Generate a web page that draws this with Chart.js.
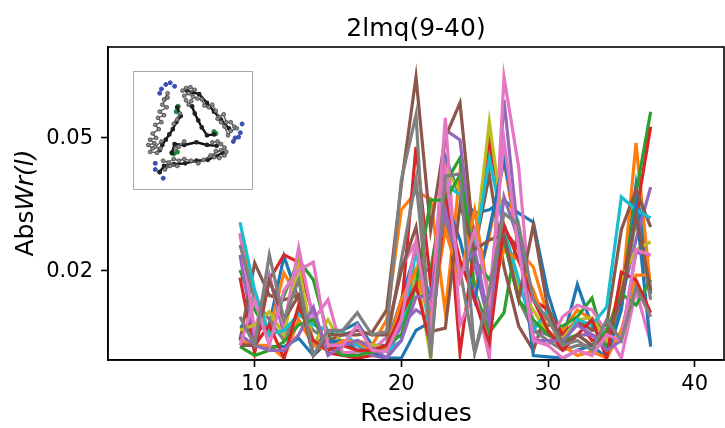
<!DOCTYPE html>
<html>
<head>
<meta charset="utf-8">
<style>
html, body { margin: 0; padding: 0; background: #fff; }
#wrap { position: relative; width: 725px; height: 428px; }
#inset { position: absolute; left: 133px; top: 71px; width: 120px; height: 119px; border: 1px solid #a8a8a8; box-sizing: border-box; }
</style>
<script src="https://cdn.jsdelivr.net/npm/chart.js@4/dist/chart.umd.min.js"></script>
</head>
<body>
<div id="wrap">
  <canvas id="myChart" width="725" height="428"></canvas>
  <div id="inset"><canvas id="insetChart" width="118" height="117"></canvas></div>
</div>
<script>
var residues = [9,10,11,12,13,14,15,16,17,18,19,20,21,22,23,24,25,26,27,28,29,30,31,32,33,34,35,36,37];

var blue1 = [.0136,.0131,.0137,.0220,.0163,.0119,.0128,.0132,.0139,.0119,.0119,.0163,.0230,.0163,.0436,.0331,.0296,.0303,.0324,.0296,.0278,.0170,.0123,.0181,.0136,.0119,.0163,.0360,.0170];
var orange1 = [.0255,.0163,.0132,.0196,.0163,.0123,.0119,.0119,.0123,.0119,.0142,.0303,.0342,.0327,.0149,.0393,.0174,.0252,.0427,.0230,.0204,.0145,.0132,.0152,.0142,.0111,.0163,.0480,.0174];
var green1 = [.0200,.0152,.0128,.0168,.0214,.0187,.0128,.0111,.0114,.0114,.0119,.0137,.0200,.0200,.0364,.0433,.0174,.0130,.0149,.0269,.0136,.0137,.0136,.0145,.0165,.0115,.0163,.0339,.0595];
var red1 = [.0190,.0113,.0187,.0222,.0211,.0145,.0113,.0111,.0109,.0111,.0115,.0152,.0467,.0182,.0399,.0113,.0238,.0480,.0264,.0230,.0163,.0152,.0128,.0142,.0123,.0128,.0174,.0292,.0537];
var purple1 = [.0222,.0123,.0193,.0128,.0147,.0142,.0119,.0123,.0119,.0111,.0109,.0137,.0152,.0142,.0525,.0490,.0207,.0137,.0646,.0246,.0132,.0128,.0119,.0128,.0128,.0123,.0163,.0246,.0354];
var brown1 = [.0123,.0210,.0168,.0163,.0168,.0111,.0123,.0128,.0128,.0130,.0152,.0360,.0757,.0264,.0500,.0633,.0230,.0385,.0204,.0136,.0115,.0155,.0121,.0142,.0132,.0137,.0264,.0347,.0269];
var pink1 = [.0258,.0132,.0190,.0136,.0233,.0142,.0163,.0113,.0114,.0115,.0126,.0204,.0243,.0145,.0571,.0137,.0174,.0109,.0757,.0407,.0126,.0119,.0145,.0157,.0152,.0130,.0109,.0174,.0121];
var gray1 = [.0238,.0163,.0142,.0123,.0152,.0132,.0123,.0119,.0123,.0117,.0119,.0214,.0372,.0132,.0282,.0200,.0113,.0163,.0246,.0163,.0132,.0123,.0115,.0119,.0119,.0123,.0163,.0282,.0163];
var olive1 = [.0132,.0137,.0150,.0128,.0207,.0119,.0142,.0119,.0123,.0119,.0117,.0142,.0200,.0109,.0399,.0347,.0230,.0555,.0264,.0174,.0152,.0128,.0125,.0142,.0144,.0123,.0187,.0230,.0243];
var cyan1 = [.0278,.0174,.0128,.0132,.0147,.0137,.0132,.0131,.0119,.0115,.0114,.0123,.0230,.0128,.0360,.0336,.0230,.0433,.0264,.0187,.0132,.0152,.0119,.0142,.0137,.0155,.0331,.0303,.0286];
var blue2 = [.0121,.0119,.0118,.0118,.0125,.0111,.0122,.0123,.0115,.0114,.0109,.0109,.0132,.0140,.0324,.0246,.0163,.0264,.0427,.0255,.0111,.0110,.0109,.0115,.0119,.0109,.0152,.0313,.0118];
var orange2 = [.0123,.0119,.0119,.0109,.0142,.0119,.0115,.0123,.0122,.0114,.0115,.0163,.0200,.0142,.0264,.0187,.0303,.0163,.0230,.0214,.0174,.0132,.0119,.0111,.0114,.0109,.0132,.0193,.0193];
var green2 = [.0118,.0111,.0115,.0122,.0137,.0142,.0119,.0111,.0111,.0114,.0119,.0128,.0180,.0324,.0324,.0385,.0214,.0187,.0246,.0163,.0142,.0128,.0123,.0128,.0119,.0132,.0170,.0157,.0187];
var red2 = [.0119,.0119,.0137,.0109,.0157,.0123,.0115,.0119,.0115,.0115,.0119,.0147,.0180,.0119,.0324,.0214,.0163,.0121,.0273,.0214,.0163,.0132,.0115,.0128,.0142,.0109,.0197,.0187,.0149];
var purple2 = [.0128,.0119,.0115,.0115,.0128,.0155,.0111,.0119,.0123,.0117,.0109,.0123,.0166,.0168,.0303,.0193,.0230,.0142,.0331,.0246,.0123,.0123,.0123,.0137,.0128,.0115,.0123,.0226,.0222];
var brown2 = [.0119,.0119,.0187,.0142,.0168,.0111,.0128,.0128,.0132,.0128,.0128,.0200,.0269,.0131,.0134,.0313,.0230,.0246,.0255,.0163,.0273,.0152,.0119,.0128,.0119,.0128,.0163,.0292,.0174];
var pink2 = [.0119,.0163,.0119,.0174,.0200,.0211,.0119,.0119,.0137,.0115,.0114,.0142,.0243,.0132,.0399,.0187,.0264,.0163,.0490,.0230,.0123,.0119,.0109,.0115,.0111,.0128,.0123,.0230,.0222];
var gray2 = [.0145,.0119,.0222,.0142,.0187,.0111,.0132,.0132,.0149,.0128,.0131,.0372,.0583,.0109,.0382,.0388,.0113,.0174,.0296,.0273,.0163,.0142,.0119,.0123,.0115,.0142,.0123,.0178,.0145];

var allSeries = [blue1, orange1, green1, red1, purple1, brown1, pink1, gray1, olive1, cyan1,
                 blue2, orange2, green2, red2, purple2, brown2, pink2, gray2];
var colors = ['#1f77b4','#ff7f0e','#2ca02c','#d62728','#9467bd','#8c564b','#e377c2','#7f7f7f','#bcbd22','#17becf'];
var yTicks = [0.02, 0.05];
var xTicks = [10, 20, 30, 40];

var fontName = '"DejaVu Sans"';

// black frame round the plot, and the y label (mixed upright and italic)
var framePlugin = {
  id: 'frame',
  afterDraw: function(chart) {
    var c = chart.ctx, a = chart.chartArea;
    c.save();
    c.strokeStyle = '#000';
    c.lineWidth = 1.6;
    c.strokeRect(a.left, a.top, a.right - a.left, a.bottom - a.top);
    c.translate(33, 203);
    c.rotate(-Math.PI / 2);
    c.fillStyle = '#000';
    c.textBaseline = 'alphabetic';
    c.textAlign = 'left';
    c.font = '25px ' + fontName;
    var w1 = c.measureText('Abs').width;
    c.font = 'italic 25px ' + fontName;
    var w2 = c.measureText('Wr(l)').width;
    var x = -(w1 + w2) / 2;
    c.font = '25px ' + fontName;
    c.fillText('Abs', x, 0);
    c.font = 'italic 25px ' + fontName;
    c.fillText('Wr(l)', x + w1, 0);
    c.restore();
  }
};

var ctx = document.getElementById('myChart').getContext('2d');
var chart = new Chart(ctx, {
  type: 'line',
  data: {
    datasets: allSeries.map(function(s, i) {
      return {
        label: 'run ' + (i + 1),
        data: s.map(function(v, j) { return { x: residues[j], y: v }; }),
        borderColor: colors[i % 10],
        borderWidth: 3.2,
        pointRadius: 0,
        tension: 0,
        fill: false,
        order: allSeries.length - i
      };
    })
  },
  options: {
    responsive: false,
    animation: false,
    layout: { padding: { right: 1 } },
    plugins: {
      legend: { display: false },
      tooltip: { enabled: false },
      title: {
        display: true,
        fullSize: false,
        text: '2lmq(9-40)',
        color: '#000',
        font: { family: fontName, size: 25, weight: 'normal' },
        padding: { top: 14, bottom: 3 }
      }
    },
    scales: {
      x: {
        type: 'linear',
        min: 0,
        max: 42,
        afterBuildTicks: function(axis) { axis.ticks = xTicks.map(function(v) { return { value: v }; }); },
        afterFit: function(axis) { axis.height = 68; },
        grid: { drawOnChartArea: false, tickLength: 7, tickColor: '#000', tickWidth: 1.6 },
        border: { color: '#000', width: 1.6 },
        ticks: { color: '#000', maxRotation: 0, padding: 5, autoSkip: false, font: { family: fontName, size: 21 } },
        title: { display: true, text: 'Residues', color: '#000', padding: { top: 3, bottom: -1 }, font: { family: fontName, size: 25 } }
      },
      y: {
        type: 'logarithmic',
        min: 0.01076,
        max: 0.093,
        afterBuildTicks: function(axis) { axis.ticks = yTicks.map(function(v) { return { value: v }; }); },
        afterFit: function(axis) { axis.width = 108; },
        grid: { drawOnChartArea: false, tickLength: 7, tickColor: '#000', tickWidth: 1.6 },
        border: { color: '#000', width: 1.6 },
        ticks: {
          color: '#000',
          padding: 8,
          labelOffset: 1.5,
          autoSkip: false,
          font: { family: fontName, size: 21 },
          callback: function(v) { return Number(v).toFixed(2); }
        }
      }
    }
  },
  plugins: [framePlugin]
});

// molecule picture in the corner, three arms of beads
var armBlack = [
  [[42,33],[46,43],[41,50],[37,58],[33,64],[29,70],[25,76],[22,82]],
  [[59,32],[62,40],[66,48],[70,56],[76,65],[84,64]],
  [[36,85],[39,75],[50,76],[64,73],[76,76],[87,77]],
  [[94,85],[77,93],[64,94],[51,97],[38,98],[27,100],[22,107]],
  [[53,14],[60,16],[67,18],[76,28],[84,38],[92,47],[101,57]]
];
var armGray = [
  [[31,17],[27,24],[31,22],[25,30],[30,33],[22,38],[27,42],[20,45],[24,50],[17,53],[21,58],[14,63],[18,68],[11,70],[16,74],[9,76],[14,80],[11,84],[19,85],[23,80],[17,78],[24,72]],
  [[42,47],[45,40],[38,52]],
  [[48,14],[52,11],[57,10],[62,13],[50,20],[55,17],[60,21],[65,23],[70,24],[73,31],[78,33],[82,30],[86,37],[90,44],[95,41],[98,50],[103,50],[107,55],[110,57],[103,60],[100,65],[96,55],[92,50],[88,46]],
  [[52,25],[55,30],[58,26]],
  [[82,73],[88,72],[92,75],[96,79],[98,84],[96,88],[90,91],[84,90],[86,83],[92,82],[80,88],[72,93],[66,97],[58,94],[50,92],[44,94],[38,92],[32,96],[28,104],[34,100],[42,100],[26,94]],
  [[44,78],[50,72],[40,80]]
];
var blueDots = [[22,17],[24,12],[29,7],[34,5],[39,9],[116,52],[114,62],[112,67],[108,68],[106,72],[17,97],[17,104],[22,107],[26,114]];
var greenDots = [[43,32],[41,38],[84,61],[86,63],[36,85],[38,86],[42,84]];

function pts(list) { return list.map(function(p) { return { x: p[0], y: p[1] }; }); }

var insetSets = [];
armGray.forEach(function(a) {
  insetSets.push({ data: pts(a), showLine: true, borderColor: '#666', borderWidth: 1.5, pointRadius: 1.9, pointBackgroundColor: '#8c8c8c', pointBorderColor: '#444', pointBorderWidth: 0.8 });
});
armBlack.forEach(function(a) {
  insetSets.push({ data: pts(a), showLine: true, borderColor: '#111', borderWidth: 2.4, pointRadius: 1.2, pointBackgroundColor: '#222', pointBorderColor: '#222' });
});
insetSets.push({ data: pts(blueDots), showLine: false, pointRadius: 2, pointBackgroundColor: '#3a4fb0', pointBorderColor: '#3a4fb0' });
insetSets.push({ data: pts(greenDots), showLine: false, pointRadius: 2.2, pointBackgroundColor: '#1d8a3c', pointBorderColor: '#1d8a3c' });

new Chart(document.getElementById('insetChart').getContext('2d'), {
  type: 'scatter',
  data: { datasets: insetSets },
  options: {
    responsive: false,
    animation: false,
    plugins: { legend: { display: false }, tooltip: { enabled: false } },
    scales: {
      x: { display: false, min: 0, max: 120 },
      y: { display: false, min: 0, max: 119, reverse: true }
    }
  }
});
</script>
</body>
</html>
